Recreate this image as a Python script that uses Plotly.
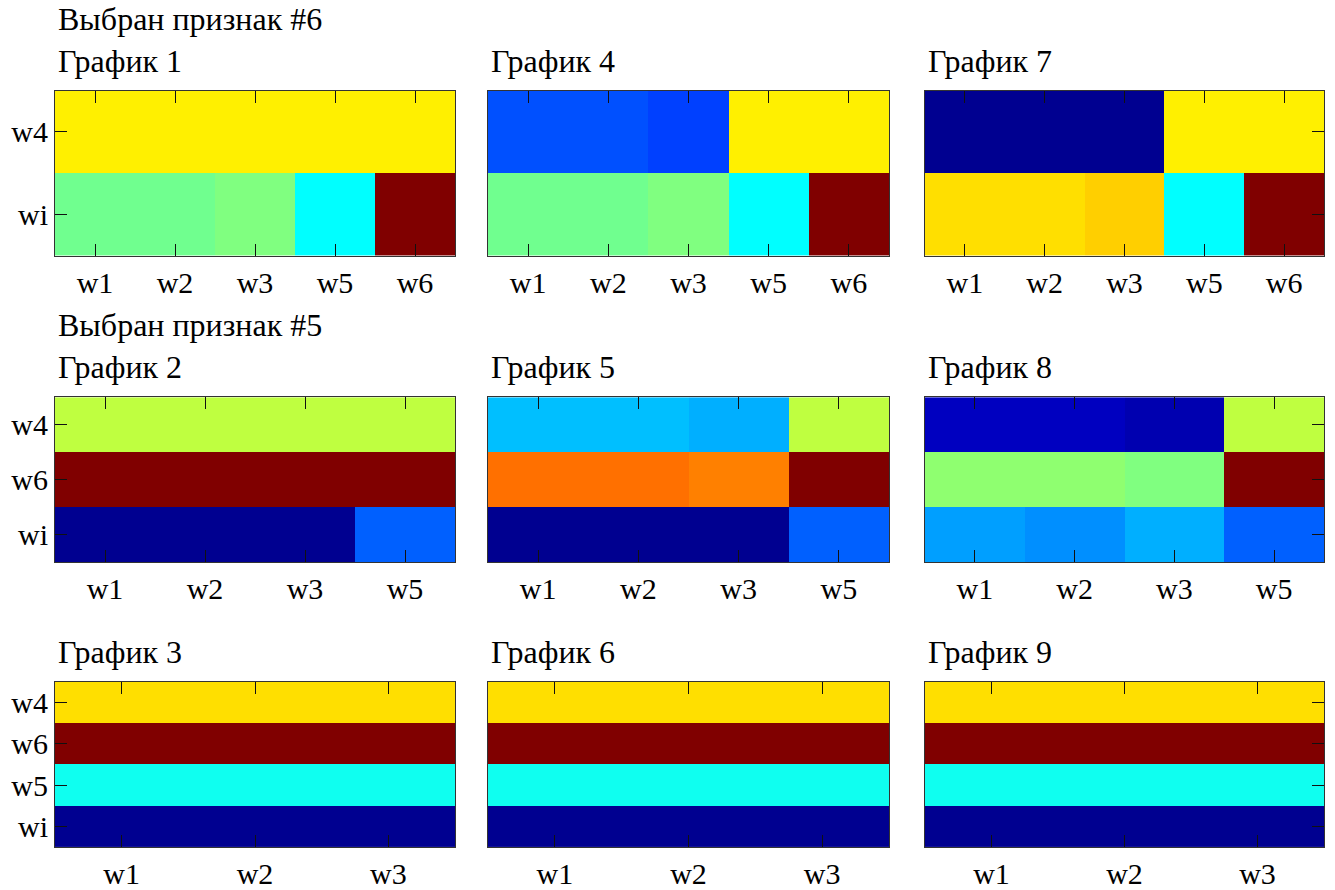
import plotly.graph_objects as go

# ---- data (normalised values on the jet colour scale, 0..1) ----
cols5 = ["w1", "w2", "w3", "w5", "w6"]
cols4 = ["w1", "w2", "w3", "w5"]
cols3 = ["w1", "w2", "w3"]

rows_a = ["w4", "wi"]               # top -> bottom
rows_b = ["w4", "w6", "wi"]
rows_c = ["w4", "w6", "w5", "wi"]

z1 = [[0.64, 0.64, 0.64, 0.64, 0.64],
      [0.485, 0.485, 0.50, 0.375, 1.0]]
z4 = [[0.2035, 0.2035, 0.1875, 0.64, 0.64],
      [0.485, 0.485, 0.50, 0.375, 1.0]]
z7 = [[0.0156, 0.0156, 0.0156, 0.64, 0.64],
      [0.656, 0.656, 0.672, 0.375, 1.0]]

z2 = [[0.5625, 0.5625, 0.5625, 0.5625],
      [1.0, 1.0, 1.0, 1.0],
      [0.0156, 0.0156, 0.0156, 0.219]]
z5 = [[0.3125, 0.3125, 0.297, 0.5625],
      [0.765, 0.765, 0.75, 1.0],
      [0.0156, 0.0156, 0.0156, 0.219]]
z8 = [[0.0625, 0.0625, 0.047, 0.5625],
      [0.515, 0.515, 0.50, 1.0],
      [0.281, 0.265, 0.297, 0.219]]

z3 = [[0.656, 0.656, 0.656],
      [1.0, 1.0, 1.0],
      [0.39, 0.39, 0.39],
      [0.0156, 0.0156, 0.0156]]
z6 = [[0.656, 0.656, 0.656],
      [1.0, 1.0, 1.0],
      [0.39, 0.39, 0.39],
      [0.0156, 0.0156, 0.0156]]
z9 = [[0.656, 0.656, 0.656],
      [1.0, 1.0, 1.0],
      [0.39, 0.39, 0.39],
      [0.0156, 0.0156, 0.0156]]

titles = ["График 1", "График 2", "График 3",
          "График 4", "График 5", "График 6",
          "График 7", "График 8", "График 9"]
headers = ["Выбран признак #6", "Выбран признак #5"]

# ---- layout geometry (pixels) ----
W, H = 1335, 890
col_px = [(55, 455), (488, 889), (925, 1324)]
row_px = [(91, 257), (399, 565), (685, 851)]

jet = [[0.0, "rgb(0,0,128)"], [0.125, "rgb(0,0,255)"], [0.375, "rgb(0,255,255)"],
       [0.625, "rgb(255,255,0)"], [0.875, "rgb(255,0,0)"], [1.0, "rgb(128,0,0)"]]

FONT = "Liberation Serif"
TICKSIZE = 30
TITLESIZE = 32

panels = [
    (z1, cols5, rows_a), (z2, cols4, rows_b), (z3, cols3, rows_c),
    (z4, cols5, rows_a), (z5, cols4, rows_b), (z6, cols3, rows_c),
    (z7, cols5, rows_a), (z8, cols4, rows_b), (z9, cols3, rows_c),
]

fig = go.Figure()
annotations = []
for k, (z, xs, ys) in enumerate(panels):
    c, r = divmod(k, 3)
    n = k + 1
    xa = "x" if n == 1 else f"x{n}"
    ya = "y" if n == 1 else f"y{n}"
    fig.add_trace(go.Heatmap(
        z=z[::-1], x=xs, y=ys[::-1], colorscale=jet, zmin=0, zmax=1,
        showscale=False, xaxis=xa, yaxis=ya, xgap=0, ygap=0, hoverinfo="skip"))
    x0, x1 = col_px[c]
    t, b = row_px[r]
    xdom = [x0 / W, x1 / W]
    ydom = [1 - b / H, 1 - t / H]
    xkey = "xaxis" if n == 1 else f"xaxis{n}"
    ykey = "yaxis" if n == 1 else f"yaxis{n}"
    xaxis = dict(domain=xdom, anchor=ya, showline=True, linecolor="#333333",
                 linewidth=1, mirror="ticks", ticks="inside", ticklen=12,
                 tickcolor="#111111", tickwidth=1, showgrid=False, zeroline=False,
                 tickfont=dict(family=FONT, size=TICKSIZE, color="black"),
                 fixedrange=True)
    yaxis = dict(domain=ydom, anchor=xa, showline=True, linecolor="#333333",
                 linewidth=1, mirror=True, showgrid=False, zeroline=False,
                 tickfont=dict(family=FONT, size=TICKSIZE, color="black"),
                 fixedrange=True)
    if c == 0:
        yaxis.update(ticks="inside", ticklen=12, tickcolor="#111111", tickwidth=1,
                     showticklabels=True)
    elif c == 1:
        yaxis.update(ticks="", showticklabels=False)
    else:
        yaxis.update(side="right", ticks="inside", ticklen=12, tickcolor="#111111",
                     tickwidth=1, showticklabels=False)
    fig.layout[xkey] = xaxis
    fig.layout[ykey] = yaxis
    annotations.append(dict(
        text=titles[k], xref="paper", yref="paper", x=(x0 + 1) / W,
        y=1 - (t - 10) / H, xanchor="left", yanchor="bottom", showarrow=False,
        font=dict(family=FONT, size=TITLESIZE, color="black")))

for i, h in enumerate(headers):
    t = row_px[i][0]
    annotations.append(dict(
        text=h, xref="paper", yref="paper", x=(55 + 1) / W,
        y=1 - (t - 52) / H, xanchor="left", yanchor="bottom", showarrow=False,
        font=dict(family=FONT, size=TITLESIZE, color="black")))

fig.update_layout(width=W, height=H, margin=dict(l=0, r=0, t=0, b=0),
                  paper_bgcolor="white", plot_bgcolor="white",
                  annotations=annotations, showlegend=False)

fig.write_html("out.html", config={"displayModeBar": False},
               post_script="document.body.style.margin='0';")
